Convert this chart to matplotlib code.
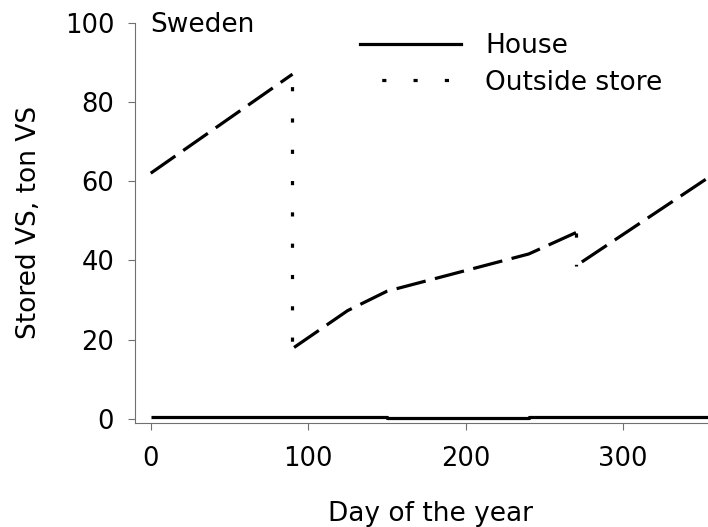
import matplotlib
matplotlib.use('Agg')
import matplotlib.pyplot as plt
from matplotlib.lines import Line2D

# stored VS (ton VS)
house_days = [0, 120, 150, 240, 270, 365]
house_vs = [0.45, 0.55, 0.15, 0.55, 0.45, 0.45]

spring_days = [0, 90]
spring_vs = [62, 87]
summer_days = [91, 125, 150, 240, 270]
summer_vs = [18, 27.3, 32.2, 41.6, 47]
autumn_days = [270, 365]
autumn_vs = [38.6, 63.8]

xticks = [0, 100, 200, 300]
yticks = [0, 20, 40, 60, 80, 100]

W, H = 708, 527
fig = plt.figure(figsize=(W / 100, H / 100), dpi=100)
ax = fig.add_axes([135 / W, 1 - 422.7 / H, 590.6 / W, 400 / H])

lw = 2.3
dash = (0, (9.4, 3))
ax.plot(house_days, house_vs, color='black', lw=lw, drawstyle='steps-post',
        solid_capstyle='butt')
ax.plot(spring_days, spring_vs, color='black', lw=lw, linestyle=dash)
ax.plot(summer_days, summer_vs, color='black', lw=lw, linestyle=dash)
ax.plot(autumn_days, autumn_vs, color='black', lw=lw, linestyle=(10.2, (9.4, 3)))
# drops when the store is emptied
ax.plot([spring_days[-1], spring_days[-1]], [spring_vs[-1], summer_vs[0]],
        color='black', lw=lw, linestyle=(5.85, (1.3, 8.5)))
ax.plot([summer_days[-1], autumn_days[0]], [summer_vs[-1], autumn_vs[0]],
        color='black', lw=lw, linestyle=(0, (1.3, 8.5)))

ax.set_xlim(-10, 365)
ax.set_ylim(-1, 100)
ax.set_xticks(xticks)
ax.set_yticks(yticks)
for s in ['top', 'right']:
    ax.spines[s].set_visible(False)
for s in ['left', 'bottom']:
    ax.spines[s].set_color('#707070')
    ax.spines[s].set_linewidth(0.8)
ax.tick_params(direction='out', length=5, width=0.8, color='#707070',
               labelsize=18.5, pad=10)
ax.tick_params(axis='x', pad=12)

ax.set_xlabel('Day of the year', fontsize=19, labelpad=21)
ax.set_ylabel('Stored VS, ton VS', fontsize=19, labelpad=16)

fig.text(150.7 / W, 1 - 31.7 / H, 'Sweden', fontsize=19, va='baseline')

handles = [Line2D([], [], color='black', lw=lw),
           Line2D([], [], color='black', lw=lw, linestyle=(3.0, (1.3, 8.5)))]
ax.legend(handles, ['House', 'Outside store'], loc='upper left',
          bbox_to_anchor=(360 / W, 1 - 33 / H), bbox_transform=fig.transFigure,
          frameon=False, fontsize=19, handlelength=3.83, handletextpad=0.91,
          borderpad=0, borderaxespad=0, labelspacing=0.4)

fig.savefig('out.png', dpi=100)
